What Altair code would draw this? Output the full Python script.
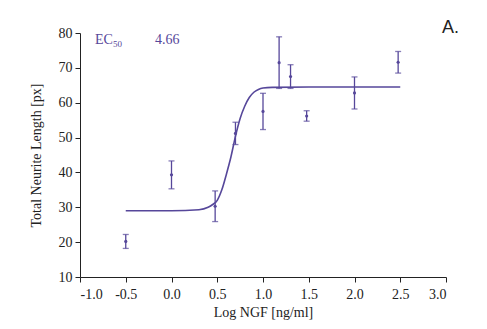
import altair as alt
import pandas as pd

# Data points (log NGF, mean, error)
log_ngf = [-0.5, 0.0, 0.477, 0.699, 1.0, 1.176, 1.301, 1.477, 2.0, 2.477]
mean_len = [20.2, 39.3, 30.3, 51.2, 57.5, 71.5, 67.5, 56.2, 62.8, 71.6]
err_len = [2.0, 4.0, 4.4, 3.2, 5.2, 7.4, 3.4, 1.5, 4.6, 3.1]

# Fitted curve
curve_x = [-0.5, 0.0, 0.3, 0.4, 0.45, 0.5, 0.55, 0.6, 0.65, 0.7, 0.75, 0.8, 0.85, 0.9, 0.95, 1.0, 1.1, 1.5, 2.0, 2.5]
curve_y = [29.0, 29.0, 29.3, 30.0, 30.8, 32.0, 35.0, 39.5, 44.5, 50.5, 55.5, 59.0, 61.5, 63.0, 63.8, 64.2, 64.4, 64.5, 64.5, 64.5]

x_ticks = [-1.0, -0.5, 0.0, 0.5, 1.0, 1.5, 2.0, 2.5, 3.0]
y_ticks = [10.0, 20.0, 30.0, 40.0, 50.0, 60.0, 70.0, 80.0]

PURPLE = "#56479a"
SERIF = "Liberation Serif"

pts = pd.DataFrame({"x": log_ngf, "y": mean_len, "e": err_len})
pts["lo"] = pts["y"] - pts["e"]
pts["hi"] = pts["y"] + pts["e"]
cur = pd.DataFrame({"x": curve_x, "y": curve_y})
one = pd.DataFrame({"k": [0]})

xs = alt.Scale(domain=[-1.0, 3.0], nice=False, zero=False)
ys = alt.Scale(domain=[10, 80], nice=False, zero=False)

xaxis = alt.Axis(values=x_ticks, format=".1f", grid=False, title="Log NGF [ng/ml]",
                 labelExpr="replace(datum.label, '\u2212', '-')", labelOverlap=False,
                 labelFont=SERIF, labelFontSize=14, labelColor="#222", titleFont=SERIF,
                 titleFontSize=14, titleFontWeight="normal", titleColor="#222",
                 domainColor="#222", tickColor="#222", tickSize=5, labelPadding=5, titlePadding=4)
yaxis = alt.Axis(values=y_ticks, format="d", grid=False, title="Total Neurite Length [px]",
                 labelOverlap=False, tickCount=8,
                 labelFont=SERIF, labelFontSize=14, labelColor="#222", titleFont=SERIF,
                 titleFontSize=14, titleFontWeight="normal", titleColor="#222",
                 domainColor="#222", tickColor="#222", tickSize=5, labelPadding=3, titlePadding=15)

X = alt.X("x:Q", scale=xs, axis=xaxis)
curve = alt.Chart(cur).mark_line(color=PURPLE, strokeWidth=1.6, interpolate="monotone").encode(
    x=X, y=alt.Y("y:Q", scale=ys, axis=yaxis))
bars = alt.Chart(pts).mark_rule(color=PURPLE, strokeWidth=1.3).encode(
    x=X, y=alt.Y("lo:Q", scale=ys, axis=yaxis), y2="hi:Q")
caps_hi = alt.Chart(pts).mark_tick(color=PURPLE, thickness=1.3, size=6, orient="horizontal").encode(
    x=X, y=alt.Y("hi:Q", scale=ys, axis=yaxis))
caps_lo = alt.Chart(pts).mark_tick(color=PURPLE, thickness=1.3, size=6, orient="horizontal").encode(
    x=X, y=alt.Y("lo:Q", scale=ys, axis=yaxis))
dots = alt.Chart(pts).mark_point(color=PURPLE, filled=True, size=10, opacity=1).encode(
    x=X, y=alt.Y("y:Q", scale=ys, axis=yaxis))

t_ec = alt.Chart(one).mark_text(text="EC", font=SERIF, fontSize=14, color=PURPLE, align="left",
                                baseline="alphabetic").encode(x=alt.value(15), y=alt.value(11))
t_50 = alt.Chart(one).mark_text(text="50", font=SERIF, fontSize=9, color=PURPLE, align="left",
                                baseline="alphabetic").encode(x=alt.value(33), y=alt.value(14))
t_val = alt.Chart(one).mark_text(text="4.66", font=SERIF, fontSize=14, color=PURPLE, align="left",
                                 baseline="alphabetic").encode(x=alt.value(75), y=alt.value(11))
t_a = alt.Chart(one).mark_text(text="A.", font="Liberation Sans", fontSize=18, color="#222",
                               align="left", baseline="alphabetic").encode(x=alt.value(362), y=alt.value(0))

chart = alt.layer(curve, bars, caps_hi, caps_lo, dots, t_ec, t_50, t_val, t_a).properties(
    width=366, height=244,
    autosize=alt.AutoSizeParams(type="none"),
    padding={"left": 72, "top": 25, "right": 33, "bottom": 44},
).configure(background="white").configure_view(stroke=None).configure_axis(labelOverlap=False)

chart.save("out.html", embed_options={"renderer": "svg", "actions": False})
